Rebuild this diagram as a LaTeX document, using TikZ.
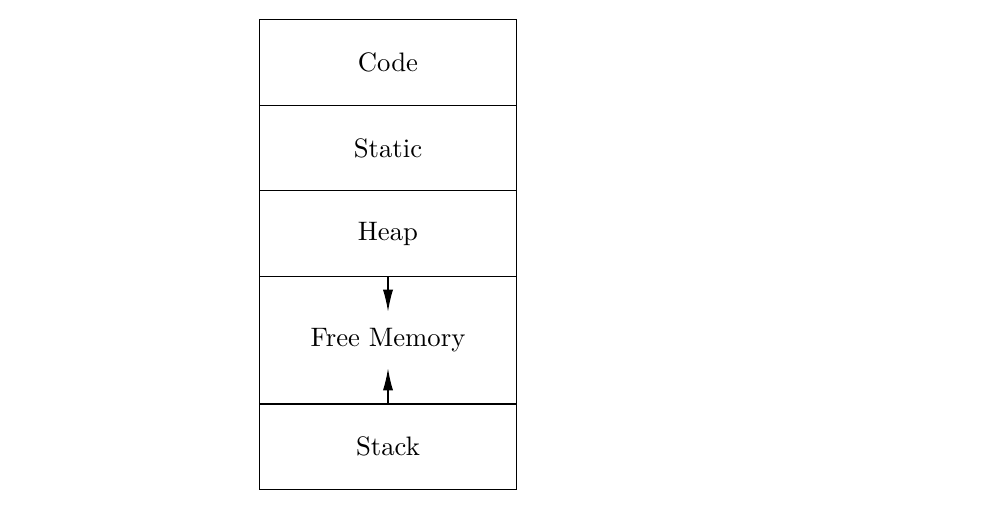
\documentclass[tikz,border=0pt]{standalone}
\usetikzlibrary{arrows.meta}
\begin{document}
\begin{tikzpicture}[x=0.3745pt,y=-0.3745pt,
  cell/.style={draw,line width=0.4pt,inner sep=0pt,minimum width=95.9pt,minimum height=#1},
  cell/.default=32pt,
  growarrow/.style={line width=0.4pt,-{Latex[length=8.2pt,width=3.8pt]}}]
\useasboundingbox (0,0) rectangle (998,515);
\node[cell] (code) at (388,62.5) {Code};
\node[cell] (static) at (388,148) {Static};
\node[cell] (heap) at (388,233.5) {Heap};
\node[cell=47.9pt] (free) at (388,340) {Free Memory};
\node[cell] (stack) at (388,446.5) {Stack};
\coordinate (t1) at (388,311.5);
\coordinate (t2) at (388,368.5);
\draw[growarrow] (heap.south) -- (t1);
\draw[growarrow] (stack.north) -- (t2);
\end{tikzpicture}
\end{document}
